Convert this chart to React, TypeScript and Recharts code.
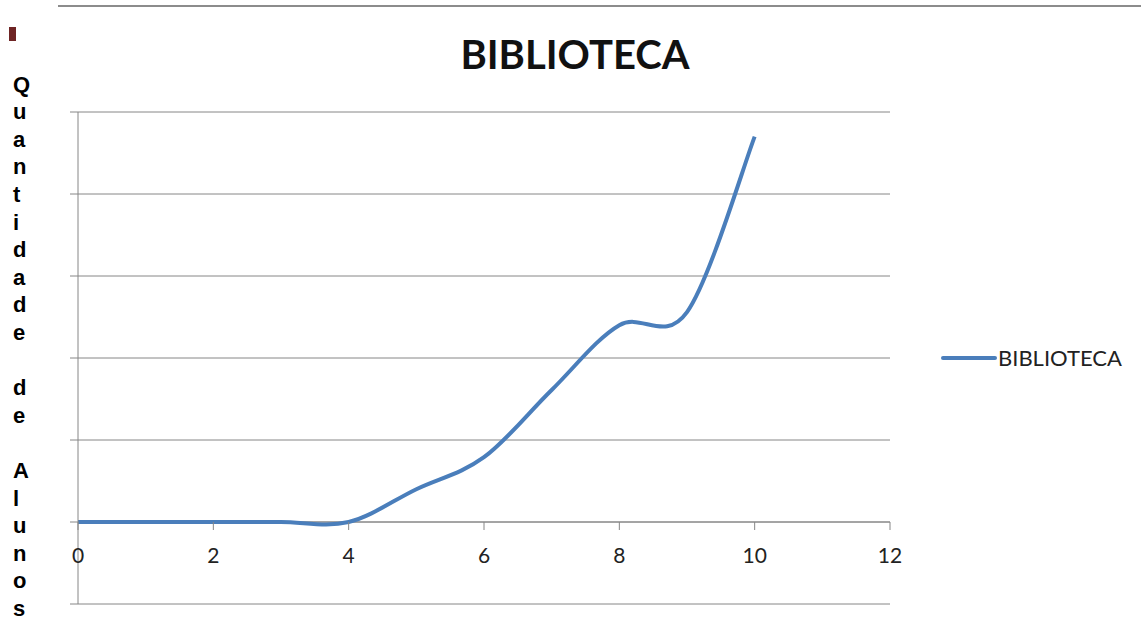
import React from 'react';
import { LineChart, Line, XAxis, YAxis, CartesianGrid, ReferenceLine, Legend } from 'recharts';

const xValues = [0, 1, 2, 3, 4, 5, 6, 7, 8, 9, 10];
const alunos = [0, 0, 0, 0, 0, 4, 7.9, 16.1, 24, 25.6, 47];
const xTicks = [0, 2, 4, 6, 8, 10, 12];
const yTicks = [-10, 0, 10, 20, 30, 40, 50];
const yTitle = 'Quantidade de Alunos';
const seriesName = 'BIBLIOTECA';

const data = xValues.map((x, i) => ({ x, alunos: alunos[i] }));

const LINE_COLOR = '#4a7ebb';
const GRID_COLOR = '#868686';
const FONT = 'Lato, "Open Sans", sans-serif';

// Excel-like smoothing (Catmull-Rom as bezier segments)
const excelSmooth = (context: any) => {
  let pts: number[][] = [];
  return {
    areaStart() {},
    areaEnd() {},
    lineStart() {
      pts = [];
    },
    point(x: number, y: number) {
      pts.push([+x, +y]);
    },
    lineEnd() {
      if (!pts.length) return;
      context.moveTo(pts[0][0], pts[0][1]);
      for (let i = 0; i < pts.length - 1; i++) {
        const p0 = pts[i - 1] || pts[i];
        const p1 = pts[i];
        const p2 = pts[i + 1];
        const p3 = pts[i + 2] || p2;
        const t = 1 / 6;
        context.bezierCurveTo(
          p1[0] + (p2[0] - p0[0]) * t,
          p1[1] + (p2[1] - p0[1]) * t,
          p2[0] - (p3[0] - p1[0]) * t,
          p2[1] - (p3[1] - p1[1]) * t,
          p2[0],
          p2[1]
        );
      }
    },
  };
};

// x labels sit under the zero line, not the bottom of the plot
const XTick: React.FC<any> = ({ x, y, payload }) => (
  <g>
    <line x1={x} x2={x} y1={y - 82} y2={y - 74} stroke={GRID_COLOR} />
    <text x={x} y={y - 41} textAnchor="middle" fontFamily={FONT} fontSize={21} fill="#222">
      {payload.value}
    </text>
  </g>
);

const LegendContent: React.FC<any> = () => (
  <div style={{ display: 'flex', alignItems: 'center', fontFamily: FONT, fontSize: 22, color: '#222' }}>
    <svg width={56} height={10}>
      <line x1={2} x2={54} y1={5} y2={5} stroke={LINE_COLOR} strokeWidth={4} strokeLinecap="round" />
    </svg>
    <span style={{ marginLeft: 1 }}>{seriesName}</span>
  </div>
);

export default function App() {
  return (
    <div style={{ position: 'absolute', left: 0, top: 0, width: 1141, height: 626, background: '#fff' }}>
      <div style={{ position: 'absolute', left: 58, top: 5, width: 1083, height: 2, background: '#8c8c8c' }} />
      <div style={{ position: 'absolute', left: 9, top: 27, width: 7, height: 14, background: '#6e2424' }} />
      <div
        style={{
          position: 'absolute',
          left: 40,
          top: 30,
          width: 1070,
          textAlign: 'center',
          fontFamily: FONT,
          fontWeight: 700,
          fontSize: 40,
          lineHeight: '48px',
          color: '#111',
        }}
      >
        {seriesName}
      </div>
      <div
        style={{
          position: 'absolute',
          left: 13,
          top: 70.6,
          fontFamily: '"Liberation Sans", Arial, sans-serif',
          fontWeight: 700,
          fontSize: 22,
          lineHeight: '27.6px',
          color: '#000',
        }}
      >
        {yTitle.split('').map((ch, i) => (
          <div key={i} style={{ height: 27.6 }}>
            {ch === ' ' ? '\u00a0' : ch}
          </div>
        ))}
      </div>
      <div style={{ position: 'absolute', left: 0, top: 0 }}>
        <LineChart width={1141} height={626} data={data} margin={{ top: 112, right: 251, left: 68, bottom: 2 }}>
          <CartesianGrid vertical={false} stroke={GRID_COLOR} />
          <XAxis
            type="number"
            dataKey="x"
            domain={[0, 12]}
            ticks={xTicks}
            axisLine={false}
            tickLine={false}
            tickSize={0}
            tickMargin={0}
            height={20}
            tick={<XTick />}
            interval={0}
          />
          <YAxis
            type="number"
            domain={[-10, 50]}
            ticks={yTicks}
            width={10}
            tickSize={8}
            stroke={GRID_COLOR}
            tickFormatter={() => ''}
          />
          <ReferenceLine y={0} stroke={GRID_COLOR} />
          <Legend
            content={<LegendContent />}
            layout="horizontal"
            verticalAlign="middle"
            align="center"
            wrapperStyle={{ position: 'absolute', left: 941, top: 344, width: 200 }}
          />
          <Line
            name={seriesName}
            dataKey="alunos"
            type={excelSmooth as any}
            stroke={LINE_COLOR}
            strokeWidth={4}
            dot={false}
            isAnimationActive={false}
          />
        </LineChart>
      </div>
    </div>
  );
}
